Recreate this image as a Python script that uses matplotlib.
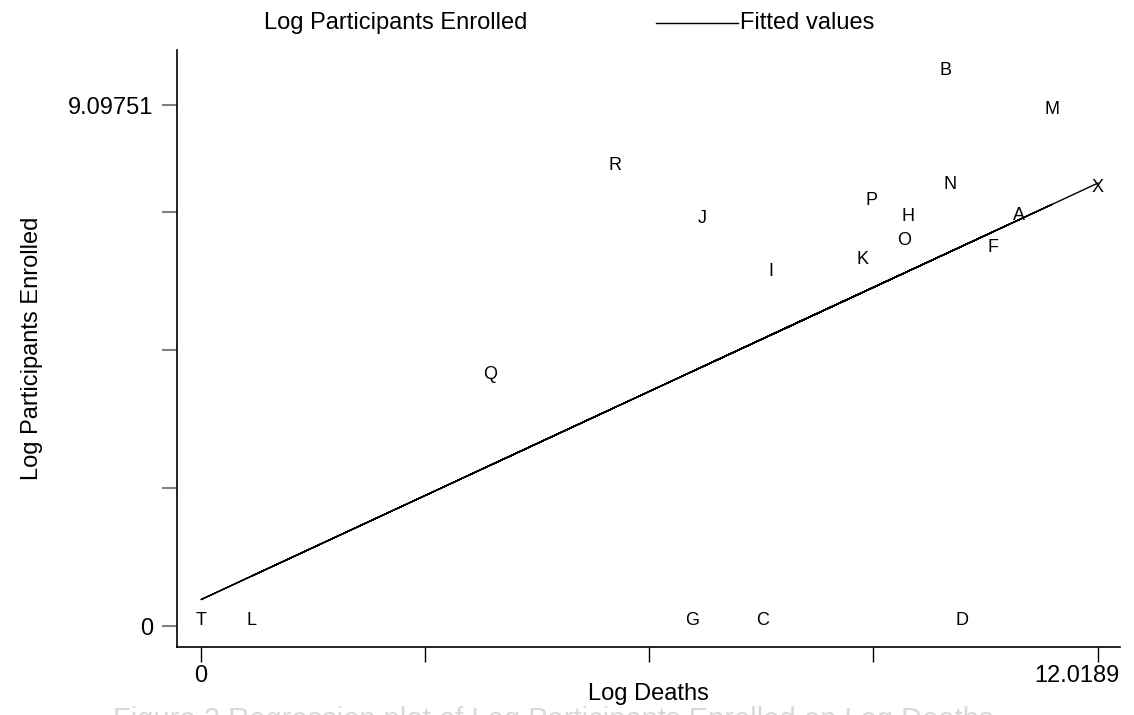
import matplotlib.pyplot as plt
from matplotlib.lines import Line2D
from matplotlib.transforms import ScaledTranslation
import numpy as np

plt.rcParams['font.family'] = ['Liberation Sans', 'DejaVu Sans']

# country codes and their log values
codes = ["A", "B", "C", "D", "F", "G", "H", "I", "J", "K",
         "L", "M", "N", "O", "P", "Q", "R", "T", "X"]
log_deaths = [10.96, 9.98, 7.52, 10.20, 10.61, 6.58, 9.47, 7.64, 6.71, 8.86,
              0.68, 11.40, 10.04, 9.42, 8.98, 3.87, 5.55, 0.0, 12.0189]
log_enrolled = [7.07, 9.60, 0.0, 0.0, 6.51, 0.0, 7.04, 6.09, 7.02, 6.30,
                0.0, 8.92, 7.60, 6.62, 7.32, 4.28, 7.93, 0.0, 7.56]

x_ticks = [0, 3, 6, 9, 12.0189]
x_ticklabels = ["0", "", "", "", "12.0189"]
y_ticks = [0, 2.41, 4.82, 7.23, 9.09751]
y_ticklabels = ["0", "", "", "", "9.09751"]

x = np.array(log_deaths)
y = np.array(log_enrolled)
slope, intercept = np.polyfit(x, y, 1)
fitted = intercept + slope * x

fig = plt.figure(figsize=(11.34, 7.15), dpi=100)
ax = fig.add_axes([0.1558, 0.0955, 0.8319, 0.8346])

# fitted line drawn in data order, like stata's twoway line
ax.plot(x, fitted, color="black", lw=1.0)

for c, xi, yi in zip(codes, x, y):
    ax.annotate(c, (xi, yi), xytext=(0, 4.3), textcoords="offset points",
                ha="center", va="center", fontsize=13)

ax.set_xlim(-0.326, 12.314)
ax.set_ylim(-0.361, 10.06)
ax.set_xticks(x_ticks)
ax.set_xticklabels(x_ticklabels)
ax.set_yticks(y_ticks)
ax.set_yticklabels(y_ticklabels)

for s in ["top", "right"]:
    ax.spines[s].set_visible(False)
for s in ["left", "bottom"]:
    ax.spines[s].set_linewidth(1.2)

ax.tick_params(axis="x", length=10.5, width=1, color="black", labelsize=17, pad=3)
ax.tick_params(axis="y", length=11, width=1.5, color="#808080", labelsize=17, pad=6)

# keep the max label inside the figure
last = ax.get_xticklabels()[-1]
last.set_transform(last.get_transform() + ScaledTranslation(-0.21, 0, fig.dpi_scale_trans))

ax.set_xlabel("Log Deaths", fontsize=17, labelpad=-3)
ax.set_ylabel("Log Participants Enrolled", fontsize=17, labelpad=18)

# legend row across the top
fig.text(396 / 1134, 1 - 23 / 715, "Log Participants Enrolled",
         ha="center", va="center", fontsize=17)
fig.add_artist(Line2D([656 / 1134, 738 / 1134], [1 - 23 / 715, 1 - 23 / 715],
                      color="black", lw=1.0))
fig.text(740 / 1134, 1 - 23 / 715, "Fitted values",
         ha="left", va="center", fontsize=17)

# caption, mostly cut off at the bottom edge
fig.text(113 / 1134, 1 - 706 / 715,
         "Figure 2 Regression plot of Log Participants Enrolled on Log Deaths",
         ha="left", va="top", fontsize=21, color="#d8d8d8")

fig.savefig("out.png", dpi=100)
